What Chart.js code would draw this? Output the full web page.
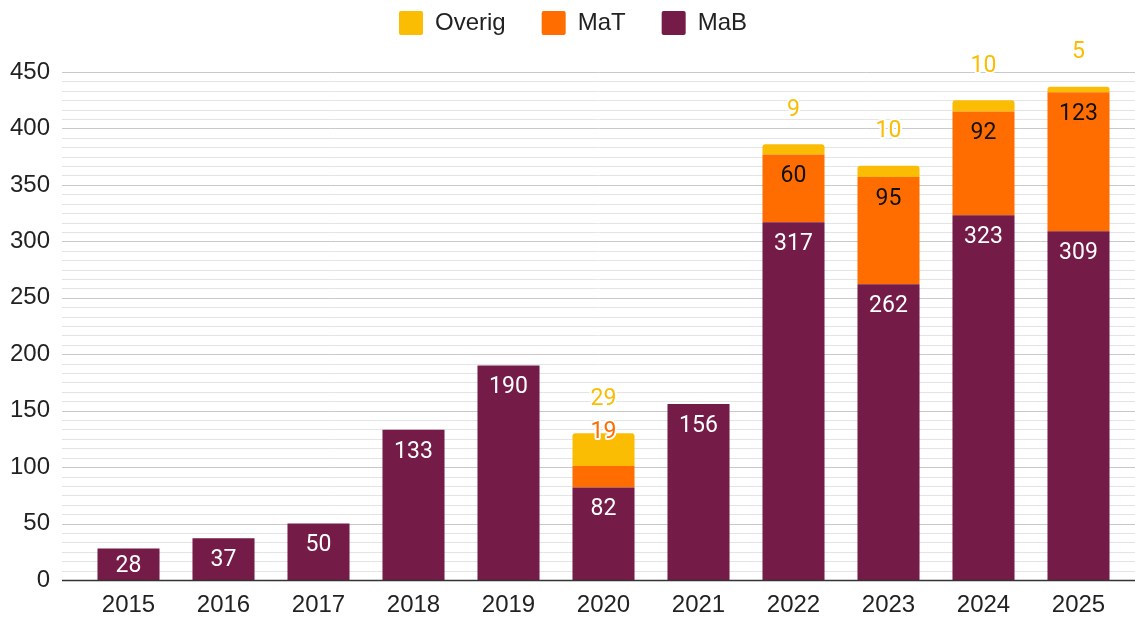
<!DOCTYPE html>
<html>
<head>
<meta charset="utf-8">
<script src="https://cdn.jsdelivr.net/npm/chart.js@4.4.0/dist/chart.umd.min.js"></script>
<style>
  html, body { margin: 0; padding: 0; background: #fff; }
  canvas { display: block; }
</style>
</head>
<body>
<canvas id="chart" width="1135" height="617" style="width:1135px;height:617px"></canvas>
<script>
// data
const years = ['2015', '2016', '2017', '2018', '2019', '2020', '2021', '2022', '2023', '2024', '2025'];
const mabValues = [28, 37, 50, 133, 190, 82, 156, 317, 262, 323, 309];
const matValues = [null, null, null, null, null, 19, null, 60, 95, 92, 123];
const overigValues = [null, null, null, null, null, 29, null, 9, 10, 10, 5];

const yMax = 450;
const yStep = 50;
const minorPerStep = 6; // 5 thin lines between every labelled line

const colors = {
  mab: '#741b47',
  mat: '#ff6d01',
  overig: '#fbbc04'
};

const axisFont = { family: 'Arial, "Liberation Sans", sans-serif', size: 24 };

// Grid lines run wider than the bars, so draw them ourselves from the y scale
const gridPlugin = {
  id: 'wideGrid',
  beforeLayout(chart) {
    // keep the legend near the top but leave room above the plot
    const legend = chart.legend;
    if (legend && !legend._fitPatched) {
      const fit = legend.fit;
      legend.fit = function () {
        fit.call(this);
        this.height = 97;
      };
      legend._fitPatched = true;
    }
  },
  beforeDatasetsDraw(chart) {
    const y = chart.scales.y;
    const ctx = chart.ctx;
    ctx.save();
    ctx.lineWidth = 1;
    const count = (yMax / yStep) * minorPerStep;
    for (let i = 1; i <= count; i++) {
      const py = Math.round(y.getPixelForValue(i * yStep / minorPerStep)) + 0.5;
      ctx.strokeStyle = i % minorPerStep === 0 ? '#c9c9c9' : '#e4e4e4';
      ctx.beginPath();
      ctx.moveTo(62, py);
      ctx.lineTo(chart.width, py);
      ctx.stroke();
    }
    ctx.restore();
  },
  afterDatasetsDraw(chart) {
    const y = chart.scales.y;
    const ctx = chart.ctx;
    const py = Math.round(y.getPixelForValue(0)) + 0.5;
    ctx.save();
    ctx.strokeStyle = '#333333';
    ctx.lineWidth = 1.3;
    ctx.beginPath();
    ctx.moveTo(62, py);
    ctx.lineTo(chart.width, py);
    ctx.stroke();
    ctx.restore();
  }
};

// Value labels, inside the segment or above the stack when it is too thin
const labelPlugin = {
  id: 'valueLabels',
  afterDatasetsDraw(chart) {
    const ctx = chart.ctx;
    ctx.save();
    ctx.font = '23px Roboto, Arial, sans-serif';
    ctx.textAlign = 'center';
    ctx.textBaseline = 'middle';

    // top of each stack
    const stackTop = years.map((_, i) => {
      let top = Infinity;
      chart.data.datasets.forEach((ds, d) => {
        if (ds.data[i] == null) return;
        const bar = chart.getDatasetMeta(d).data[i];
        top = Math.min(top, bar.y);
      });
      return top;
    });

    chart.data.datasets.forEach((ds, d) => {
      const meta = chart.getDatasetMeta(d);
      meta.data.forEach((bar, i) => {
        const v = ds.data[i];
        if (v == null) return;
        const top = bar.y;
        const bottom = bar.base;
        const height = bottom - top;
        const x = bar.x;
        if (ds.labelOutsideOffset != null && (ds.alwaysOutside || height < 30)) {
          const py = stackTop[i] - ds.labelOutsideOffset;
          ctx.lineJoin = 'round';
          ctx.lineWidth = 4;
          ctx.strokeStyle = '#ffffff';
          ctx.strokeText(String(v), x, py);
          ctx.fillStyle = ds.backgroundColor;
          ctx.fillText(String(v), x, py);
        } else {
          const py = Math.min(top + 22, (top + bottom) / 2 + 2);
          ctx.fillStyle = ds.labelColor;
          ctx.fillText(String(v), x, py);
        }
      });
    });
    ctx.restore();
  }
};

new Chart(document.getElementById('chart'), {
  type: 'bar',
  data: {
    labels: years,
    datasets: [
      {
        label: 'MaB',
        data: mabValues,
        backgroundColor: colors.mab,
        labelColor: '#ffffff'
      },
      {
        label: 'MaT',
        data: matValues,
        backgroundColor: colors.mat,
        labelColor: '#111111',
        labelOutsideOffset: 1
      },
      {
        label: 'Overig',
        data: overigValues,
        backgroundColor: colors.overig,
        labelColor: colors.overig,
        labelOutsideOffset: 34,
        alwaysOutside: true,
        borderRadius: { topLeft: 3, topRight: 3, bottomLeft: 0, bottomRight: 0 },
        borderSkipped: false
      }
    ]
  },
  options: {
    responsive: false,
    devicePixelRatio: 1,
    animation: false,
    layout: {
      padding: { top: -25, right: 9, bottom: 0, left: 20 }
    },
    datasets: {
      bar: {
        barPercentage: 1,
        categoryPercentage: 0.653
      }
    },
    scales: {
      x: {
        stacked: true,
        afterFit(scale) { scale.height = 37; },
        grid: { display: false, drawTicks: false },
        border: { display: false },
        ticks: {
          color: '#222222',
          padding: 11,
          font: axisFont
        }
      },
      y: {
        stacked: true,
        min: 0,
        max: yMax,
        afterFit(scale) {
          scale.width = 61;
          // tick padding would otherwise push the plot bottom up
          scale.paddingTop = 0;
          scale.paddingBottom = 0;
          // labels stick out left of the axis box, don't clip them
          scale._computeLabelArea = () => undefined;
        },
        grid: { display: false, drawTicks: false },
        border: { display: false },
        ticks: {
          stepSize: yStep,
          color: '#222222',
          padding: 31,
          font: axisFont
        }
      }
    },
    plugins: {
      legend: {
        position: 'top',
        reverse: true,
        labels: {
          boxWidth: 24,
          boxHeight: 24,
          useBorderRadius: true,
          borderRadius: 2,
          padding: 36,
          color: '#222222',
          font: axisFont
        }
      },
      tooltip: { enabled: false }
    }
  },
  plugins: [gridPlugin, labelPlugin]
});
</script>
</body>
</html>
